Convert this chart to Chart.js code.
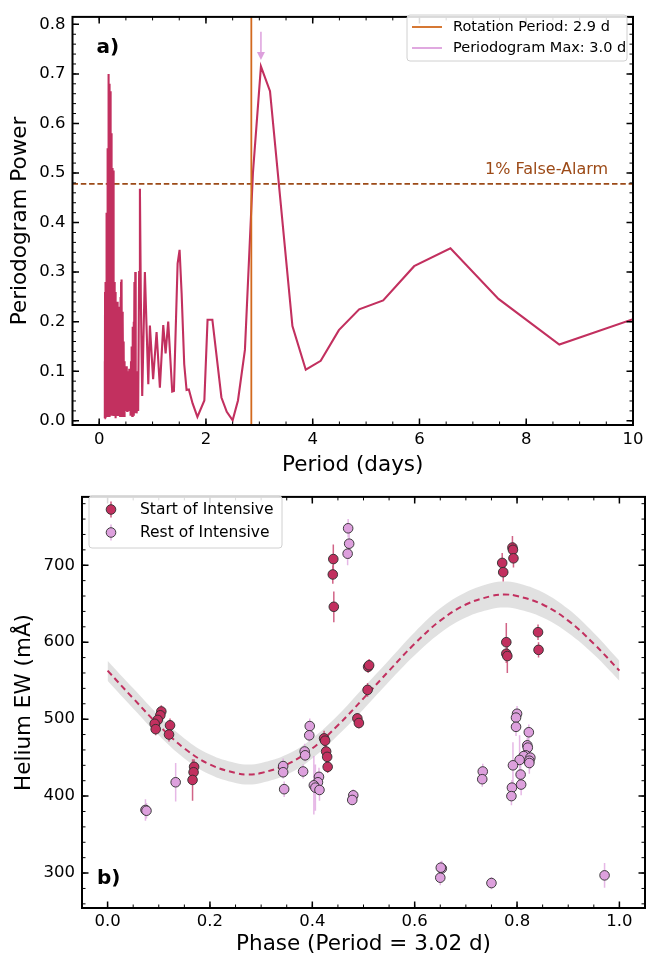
<!DOCTYPE html>
<html lang="en">
<head>
<meta charset="UTF-8" />
<title>Periodogram and phased helium EW</title>
<script src="https://cdn.jsdelivr.net/npm/chart.js@4.4.1/dist/chart.umd.min.js"></script>
<style>
  html, body { margin: 0; padding: 0; background: #fff; }
  #wrap { position: relative; width: 657px; height: 957px; }
  #top { position: absolute; left: 0; top: 0; }
  #bottom { position: absolute; left: 0; top: 480px; }
</style>
</head>
<body>
<div id="wrap">
  <canvas id="top" width="657" height="480"></canvas>
  <canvas id="bottom" width="657" height="477"></canvas>
</div>
<script>
// ---- panel a: periodogram ----
const periodDays = [0.100,0.104,0.107,0.110,0.113,0.116,0.119,0.122,0.125,0.128,0.131,0.134,0.137,0.140,0.143,0.146,0.149,0.152,0.155,0.158,
  0.161,0.164,0.167,0.170,0.173,0.176,0.179,0.182,0.185,0.188,0.191,0.194,0.197,0.200,0.204,0.208,0.212,0.216,0.220,0.224,
  0.228,0.232,0.236,0.240,0.244,0.248,0.252,0.256,0.260,0.264,0.268,0.272,0.276,0.280,0.285,0.290,0.295,0.300,0.305,0.310,
  0.315,0.320,0.325,0.330,0.335,0.340,0.345,0.350,0.356,0.362,0.368,0.374,0.380,0.386,0.392,0.398,0.404,0.410,0.416,0.422,
  0.428,0.434,0.440,0.446,0.452,0.458,0.465,0.472,0.479,0.486,0.493,0.500,0.508,0.516,0.524,0.532,0.540,0.548,0.556,0.564,
  0.572,0.580,0.588,0.596,0.604,0.612,0.620,0.628,0.636,0.644,0.652,0.660,0.668,0.676,0.684,0.692,0.700,0.715,0.730,0.748,
  0.763,0.780,0.806,0.856,0.920,0.950,1.010,1.075,1.137,1.200,1.244,1.293,1.368,1.400,1.469,1.506,1.544,1.593,1.637,1.680,
  1.750,1.840,1.970,2.030,2.120,2.290,2.390,2.500,2.600,2.730,2.880,3.030,3.200,3.620,3.870,4.150,4.490,4.870,5.320,5.900,
  6.580,7.480,8.620,10.00];
const periodPower = [0.005,0.12,0.01,0.26,0.02,0.28,0.01,0.22,0.005,0.28,0.02,0.18,0.01,0.36,0.03,0.42,0.01,0.40,0.02,0.30,
  0.01,0.55,0.04,0.70,0.02,0.70,0.05,0.62,0.01,0.50,0.03,0.60,0.01,0.68,0.04,0.66,0.02,0.665,0.03,0.58,
  0.01,0.45,0.02,0.35,0.01,0.46,0.03,0.51,0.02,0.505,0.01,0.40,0.02,0.28,0.01,0.22,0.02,0.26,0.005,0.24,
  0.02,0.20,0.01,0.235,0.03,0.24,0.01,0.18,0.02,0.21,0.01,0.23,0.02,0.19,0.01,0.25,0.03,0.28,0.02,0.285,
  0.01,0.22,0.03,0.205,0.02,0.16,0.01,0.12,0.04,0.11,0.02,0.10,0.03,0.11,0.02,0.10,0.04,0.10,0.02,0.105,
  0.03,0.10,0.01,0.12,0.02,0.15,0.01,0.19,0.02,0.20,0.01,0.28,0.02,0.30,0.015,0.10,0.015,0.03,0.02,0.30,
  0.468,0.25,0.05,0.30,0.074,0.192,0.084,0.179,0.067,0.193,0.136,0.200,0.059,0.06,0.317,0.345,0.258,0.114,0.062,0.063,
  0.035,0.008,0.041,0.204,0.204,0.047,0.018,0.001,0.041,0.143,0.50,0.715,0.665,0.191,0.103,0.121,0.183,0.225,0.243,0.312,
  0.348,0.246,0.154,0.205];
const rotationPeriod = 2.85;
const peakPeriod = 3.03;
const falseAlarm = 0.478;
const topXTicks = [0, 2, 4, 6, 8, 10];
const topYTicks = [0.0, 0.1, 0.2, 0.3, 0.4, 0.5, 0.6, 0.7, 0.8];

// ---- panel b: phased helium EW ----
const startPhase = [0.105,0.103,0.098,0.092,0.094,0.122,0.120,0.169,0.168,0.166,0.441,0.440,0.442,0.423,0.425,0.427,0.429,
  0.430,0.488,0.491,0.509,0.511,0.508,0.791,0.792,0.793,0.771,0.773,0.779,0.779,0.781,0.841,0.842];
const startEW = [510,505,499,494,487,492,480,438,431,421,708,688,646,475,472,458,451,438,501,495,568,570,538,723,720,709,
  703,691,600,585,582,613,590];
const startErr = [8,8,7,8,8,9,9,10,10,27,19,12,20,10,9,8,8,8,7,7,8,8,9,15,10,12,13,12,25,12,22,10,10];

const restPhase = [0.074,0.076,0.133,0.343,0.343,0.345,0.395,0.394,0.385,0.386,0.382,0.413,0.411,0.403,0.406,0.414,0.480,
  0.478,0.470,0.472,0.469,0.800,0.798,0.798,0.823,0.820,0.821,0.817,0.813,0.826,0.824,0.824,0.805,0.792,0.807,0.808,0.790,
  0.789,0.733,0.732,0.653,0.651,0.650,0.750,0.971];
const restEW = [382,381,418,439,431,409,491,479,458,453,432,425,418,414,411,408,401,395,748,728,715,507,502,490,483,466,463,
  453,452,450,446,443,447,440,428,415,411,400,432,422,306,307,294,287,297];
const restErr = [14,10,25,10,8,10,10,8,10,8,9,12,12,38,30,14,8,6,12,20,15,10,10,12,10,10,12,10,10,15,14,14,32,30,14,14,10,
  12,10,10,10,8,10,8,16];

const fitPhase = [0,0.05,0.10,0.15,0.20,0.25,0.275,0.30,0.35,0.40,0.45,0.50,0.55,0.60,0.65,0.70,0.75,0.775,0.80,0.85,0.90,0.95,1.0];
const fitEW = [563,527,492,462,441,430,428,430,441,462,492,527,563,598,628,649,660,662,660,649,628,598,563];
const fitHigh = [576,540,505,475,454,443,441,443,454,475,505,541,577,613,644,665,677,679,677,665,643,612,576];
const fitLow = [550,514,479,449,428,417,415,417,428,449,479,513,549,583,612,632,643,645,643,632,612,584,550];
const botXTicks = [0.0, 0.2, 0.4, 0.6, 0.8, 1.0];
const botYTicks = [300, 400, 500, 600, 700];

const crimson = '#c2305f';
const plum = '#dda0dd';
const orange = '#d2691e';
const brown = '#9c4a17';
const edge = 'rgba(45,45,45,0.9)';

Chart.defaults.font.family = "'DejaVu Sans', sans-serif";
Chart.defaults.color = '#000';

function xy(xs, ys) { return xs.map((v, i) => ({ x: v, y: ys[i] })); }

// frame with inward ticks on all four sides, matplotlib style
function frame(minorX, minorY) {
  return {
    id: 'frame',
    afterDraw(chart) {
      const { ctx, chartArea: a, scales: { x, y } } = chart;
      ctx.save();
      ctx.strokeStyle = '#000';
      const marks = (vals, len, w) => {
        ctx.lineWidth = w;
        ctx.beginPath();
        vals.x.forEach(v => {
          const p = x.getPixelForValue(v);
          if (p < a.left - 0.5 || p > a.right + 0.5) return;
          ctx.moveTo(p, a.bottom); ctx.lineTo(p, a.bottom - len);
          ctx.moveTo(p, a.top); ctx.lineTo(p, a.top + len);
        });
        vals.y.forEach(v => {
          const p = y.getPixelForValue(v);
          if (p < a.top - 0.5 || p > a.bottom + 0.5) return;
          ctx.moveTo(a.left, p); ctx.lineTo(a.left + len, p);
          ctx.moveTo(a.right, p); ctx.lineTo(a.right - len, p);
        });
        ctx.stroke();
      };
      marks({ x: minorX, y: minorY }, 3.5, 1);
      marks({ x: chart.options.scales.x.majors, y: chart.options.scales.y.majors }, 6.5, 1.5);
      ctx.lineWidth = 2;
      ctx.strokeRect(a.left, a.top, a.right - a.left, a.bottom - a.top);
      ctx.restore();
    }
  };
}

function steps(from, to, step) {
  const out = [];
  const n = Math.round((to - from) / step);
  for (let i = 0; i <= n; i++) out.push(from + i * step);
  return out;
}

function box(ctx, x, y, w, h) {
  ctx.save();
  ctx.beginPath();
  ctx.roundRect(x, y, w, h, 3);
  ctx.fillStyle = 'rgba(255,255,255,0.85)';
  ctx.fill();
  ctx.strokeStyle = '#d0d0d0';
  ctx.lineWidth = 1;
  ctx.stroke();
  ctx.restore();
}

const decorTop = {
  id: 'decorTop',
  afterDraw(chart) {
    const { ctx, chartArea: a, scales: { x, y } } = chart;
    ctx.save();
    // arrow pointing at periodogram max
    const ax = x.getPixelForValue(peakPeriod);
    const y0 = y.getPixelForValue(0.785), y1 = y.getPixelForValue(0.728);
    ctx.strokeStyle = plum; ctx.fillStyle = plum; ctx.lineWidth = 1.5;
    ctx.beginPath(); ctx.moveTo(ax, y0); ctx.lineTo(ax, y1 - 7); ctx.stroke();
    ctx.beginPath(); ctx.moveTo(ax - 4, y1 - 8); ctx.lineTo(ax + 4, y1 - 8); ctx.lineTo(ax, y1); ctx.closePath(); ctx.fill();
    // false alarm label
    ctx.fillStyle = brown;
    ctx.font = "16px 'Comic Sans MS', 'DejaVu Sans', sans-serif";
    ctx.textAlign = 'left'; ctx.textBaseline = 'alphabetic';
    ctx.fillText('1% False-Alarm', 485, y.getPixelForValue(falseAlarm) - 10);
    // panel label
    ctx.fillStyle = '#000';
    ctx.font = "bold 20px 'DejaVu Sans', sans-serif";
    ctx.textBaseline = 'middle';
    ctx.fillText('a)', a.left + 24, a.top + 31);
    // legend
    box(ctx, 407, 15, 220, 46);
    ctx.font = "14.5px 'DejaVu Sans', sans-serif";
    ctx.lineWidth = 1.8;
    [[orange, 'Rotation Period: 2.9 d', 27], [plum, 'Periodogram Max: 3.0 d', 48]].forEach(([c, t, ly]) => {
      ctx.strokeStyle = c;
      ctx.beginPath(); ctx.moveTo(412, ly); ctx.lineTo(442, ly); ctx.stroke();
      ctx.fillStyle = '#000';
      ctx.fillText(t, 453, ly);
    });
    ctx.restore();
  }
};

new Chart(document.getElementById('top'), {
  type: 'scatter',
  data: {
    datasets: [
      { data: [{ x: rotationPeriod, y: -0.01 }, { x: rotationPeriod, y: 0.815 }], showLine: true,
        borderColor: orange, borderWidth: 1.8, pointRadius: 0, order: 0 },
      { data: xy(periodDays, periodPower), showLine: true, borderColor: crimson, borderWidth: 2.1,
        pointRadius: 0, order: 1 },
      { data: [{ x: -0.5, y: falseAlarm }, { x: 10, y: falseAlarm }], showLine: true, borderColor: brown,
        borderWidth: 1.7, borderDash: [5.5, 2.8], pointRadius: 0, order: 2 }
    ]
  },
  options: {
    responsive: false, animation: false, devicePixelRatio: 1,
    layout: { padding: { left: 0, right: 24, top: 7, bottom: 0 } },
    plugins: { legend: { display: false }, tooltip: { enabled: false } },
    scales: {
      x: {
        type: 'linear', min: -0.5, max: 10, majors: topXTicks,
        grid: { display: false, drawTicks: false }, border: { display: false },
        afterBuildTicks: s => { s.ticks = topXTicks.map(v => ({ value: v })); },
        afterFit: s => { s.height = 55; },
        ticks: { font: { size: 16.5 }, padding: 5, maxRotation: 0, callback: v => String(v) },
        title: { display: true, text: 'Period (days)', font: { size: 21.5 }, padding: { top: 0, bottom: 2 } }
      },
      y: {
        type: 'linear', min: -0.0085, max: 0.815, majors: topYTicks,
        grid: { display: false, drawTicks: false }, border: { display: false },
        afterBuildTicks: s => { s.ticks = topYTicks.map(v => ({ value: v })); },
        afterFit: s => { s.width = 72.5; },
        ticks: { font: { size: 16.5 }, padding: 7, callback: v => v.toFixed(1) },
        title: { display: true, text: 'Periodogram Power', font: { size: 21.5 }, padding: { top: 8, bottom: 0 } }
      }
    }
  },
  plugins: [frame(steps(-0.5, 10, 0.5), steps(0, 0.8, 0.02)), decorTop]
});

// error bars drawn just under each scatter dataset
const errorBars = {
  id: 'errorBars',
  beforeDatasetDraw(chart, args) {
    const ds = chart.data.datasets[args.index];
    if (!ds.err) return;
    const { ctx, scales: { x, y } } = chart;
    ctx.save();
    ctx.strokeStyle = ds.errColor;
    ctx.lineWidth = 1.5;
    ctx.beginPath();
    ds.data.forEach((p, i) => {
      const px = x.getPixelForValue(p.x);
      ctx.moveTo(px, y.getPixelForValue(p.y - ds.err[i]));
      ctx.lineTo(px, y.getPixelForValue(p.y + ds.err[i]));
    });
    ctx.stroke();
    ctx.restore();
  }
};

const decorBottom = {
  id: 'decorBottom',
  afterDraw(chart) {
    const { ctx, chartArea: a } = chart;
    ctx.save();
    ctx.fillStyle = '#000';
    ctx.font = "bold 20px 'DejaVu Sans', sans-serif";
    ctx.textBaseline = 'middle'; ctx.textAlign = 'left';
    ctx.fillText('b)', a.left + 15, a.bottom - 29);
    box(ctx, 89, 16, 193, 52);
    ctx.font = "15.5px 'DejaVu Sans', sans-serif";
    [[crimson, 'rgba(194,48,95,0.8)', 'Start of Intensive', 29.5],
     [plum, 'rgba(221,160,221,0.8)', 'Rest of Intensive', 52.5]].forEach(([c, ec, t, ly]) => {
      ctx.strokeStyle = ec; ctx.lineWidth = 1.5;
      ctx.beginPath(); ctx.moveTo(111, ly - 8); ctx.lineTo(111, ly + 8); ctx.stroke();
      ctx.beginPath(); ctx.arc(111, ly, 4.8, 0, Math.PI * 2);
      ctx.fillStyle = c; ctx.fill();
      ctx.strokeStyle = edge; ctx.lineWidth = 1; ctx.stroke();
      ctx.fillStyle = '#000';
      ctx.fillText(t, 140, ly);
    });
    ctx.restore();
  }
};

new Chart(document.getElementById('bottom'), {
  type: 'scatter',
  data: {
    datasets: [
      { label: 'Rest of Intensive', data: xy(restPhase, restEW), err: restErr, errColor: 'rgba(221,160,221,0.75)',
        backgroundColor: plum, borderColor: edge, borderWidth: 1, pointRadius: 4.8, order: 0 },
      { label: 'Start of Intensive', data: xy(startPhase, startEW), err: startErr, errColor: 'rgba(194,48,95,0.75)',
        backgroundColor: crimson, borderColor: edge, borderWidth: 1, pointRadius: 4.8, order: 1 },
      { data: xy(fitPhase, fitEW), type: 'line', showLine: true, borderColor: crimson, borderWidth: 2,
        borderDash: [6, 4], pointRadius: 0, tension: 0.4, order: 2 },
      { data: xy(fitPhase, fitLow), type: 'line', showLine: true, borderWidth: 0, borderColor: 'rgba(0,0,0,0)',
        pointRadius: 0, tension: 0.4, fill: false, order: 3 },
      { data: xy(fitPhase, fitHigh), type: 'line', showLine: true, borderWidth: 0, borderColor: 'rgba(0,0,0,0)',
        pointRadius: 0, tension: 0.4, fill: '-1', backgroundColor: 'rgba(200,200,200,0.55)',
        order: 4 }
    ]
  },
  options: {
    responsive: false, animation: false, devicePixelRatio: 1,
    layout: { padding: { left: 0, right: 12, top: 8, bottom: 0 } },
    plugins: { legend: { display: false }, tooltip: { enabled: false } },
    scales: {
      x: {
        type: 'linear', min: -0.05, max: 1.05, majors: botXTicks,
        grid: { display: false, drawTicks: false }, border: { display: false },
        afterBuildTicks: s => { s.ticks = botXTicks.map(v => ({ value: v })); },
        afterFit: s => { s.height = 49; },
        ticks: { font: { size: 16.5 }, padding: 4, maxRotation: 0, callback: v => v.toFixed(1) },
        title: { display: true, text: 'Phase (Period = 3.02 d)', font: { size: 21.5 }, padding: { top: 0, bottom: 0 } }
      },
      y: {
        type: 'linear', min: 254.6, max: 788.8, majors: botYTicks,
        grid: { display: false, drawTicks: false }, border: { display: false },
        afterBuildTicks: s => { s.ticks = botYTicks.map(v => ({ value: v })); },
        afterFit: s => { s.width = 82; },
        ticks: { font: { size: 16.5 }, padding: 7, callback: v => String(v) },
        title: { display: true, text: 'Helium EW (mÅ)', font: { size: 21.5 }, padding: { top: 12, bottom: 0 } }
      }
    }
  },
  plugins: [errorBars, frame(steps(-0.05, 1.05, 0.05), steps(260, 780, 20)), decorBottom]
});
</script>
</body>
</html>
